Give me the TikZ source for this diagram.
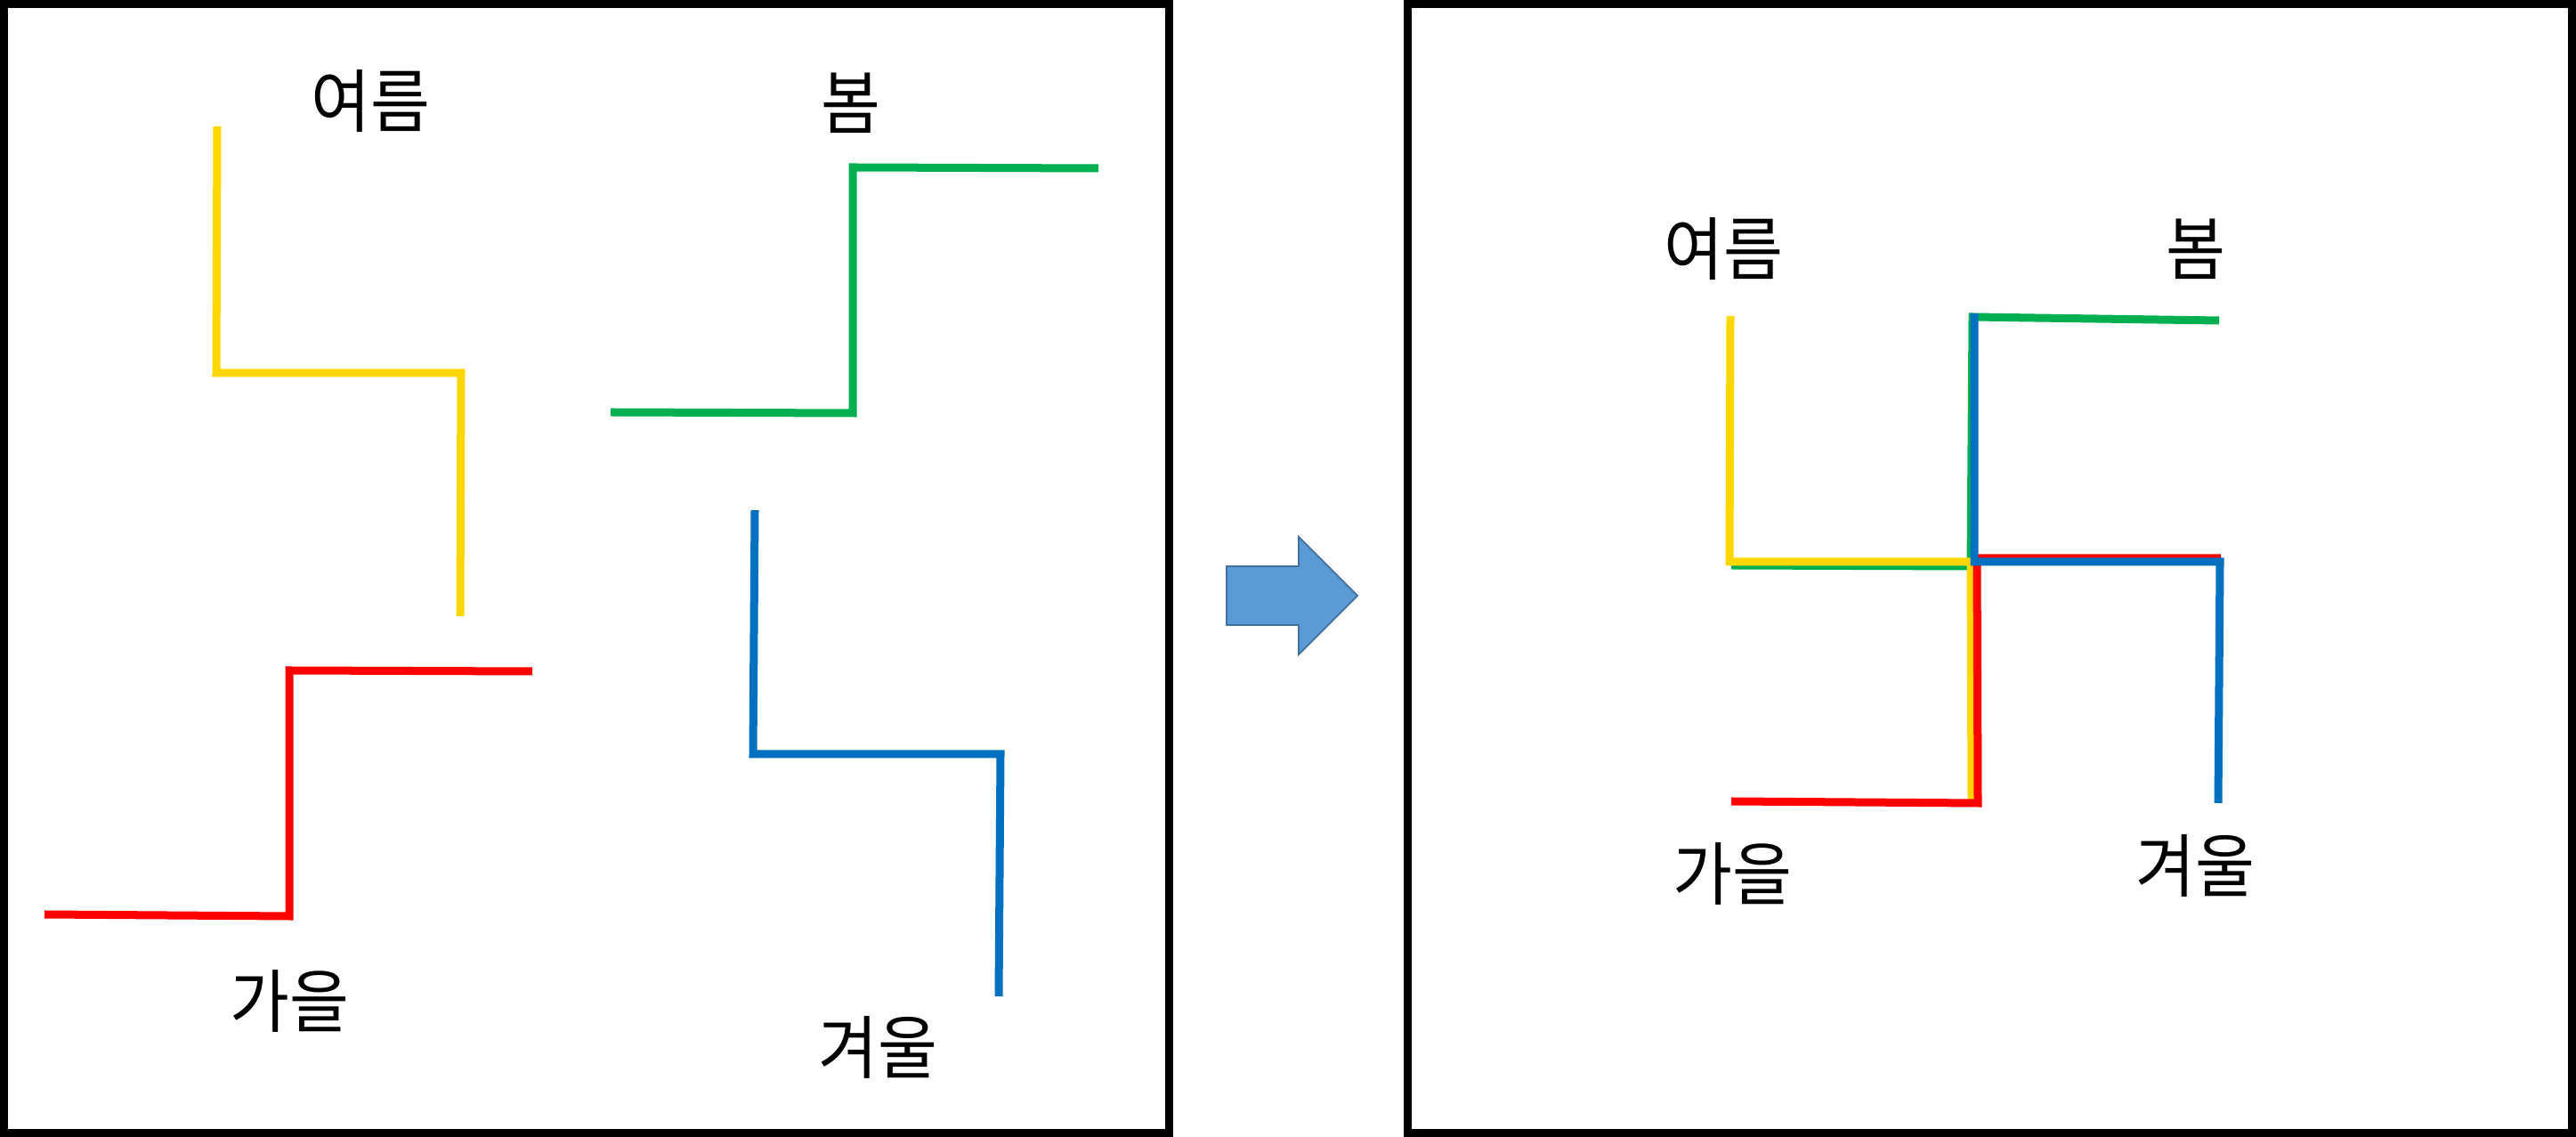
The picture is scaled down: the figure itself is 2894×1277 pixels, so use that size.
\documentclass[tikz,border=0pt]{standalone}
\usepackage{fontspec}
\usepackage{xcolor}
\usepackage{tikz}
\usetikzlibrary{positioning}
\newfontfamily\kofont[FakeStretch=0.94]{Noto Sans CJK KR}

\definecolor{springgreen}{HTML}{00B050}
\definecolor{summeryellow}{HTML}{FFD700}
\definecolor{autumnred}{HTML}{FF0000}
\definecolor{winterblue}{HTML}{0070C0}
\definecolor{arrowfill}{HTML}{5B9BD5}
\definecolor{arrowdraw}{HTML}{41719C}

\begin{document}
\begin{tikzpicture}[
    x=0.01cm, y=-0.01cm,
    font=\kofont\fontsize{22pt}{26pt}\selectfont,
    season/.style={inner sep=0pt, anchor=center},
    frame/.style={draw=black, line width=0.09cm},
    stroke/.style={line width=0.09cm, line join=miter, line cap=butt},
    spr/.style={stroke, draw=springgreen},
    sum/.style={stroke, draw=summeryellow},
    aut/.style={stroke, draw=autumnred},
    win/.style={stroke, draw=winterblue},
    bigarrow/.style={fill=arrowfill, draw=arrowdraw, line width=0.5pt, line join=miter}
]
\useasboundingbox (0,0) rectangle (2894,1277);

% two panels
\draw[frame] (4.5,4.5) rectangle (1313.5,1272.5);
\draw[frame] (1581.5,4.5) rectangle (2889.5,1272.5);

% left panel: the four pieces apart
\draw[sum] (244,142) -- (243,419) -- (518,419) -- (517,692);
\draw[spr] (686,463) -- (958,464) -- (958,188) -- (1234,189);
\draw[aut] (50,1027) -- (325,1029) -- (325,753) -- (598,754);
\draw[win] (848,573) -- (846,847) -- (1124,847) -- (1122,1119);

\node[season] (sumL) at (416,114) {여름};
\node[season] (sprL) at (956,116) {봄};
\node[season] (autL) at (325,1124) {가을};
\node[season] (winL) at (986,1176) {겨울};

% arrow between panels
\draw[bigarrow] (1378,636) -- (1459,636) -- (1459,603) -- (1525,669)
    -- (1459,735) -- (1459,702) -- (1378,702) -- cycle;

% right panel: the pieces put together
\draw[spr] (1945,635) -- (2214,636) -- (2216,356) -- (2493,360);
\draw[sum] (1944,355) -- (1943,631) -- (2214,631) -- (2215,902);
\draw[aut] (1945,900) -- (2222,902) -- (2221,627) -- (2495,627);
\draw[win] (2218,352) -- (2218,631) -- (2494,631) -- (2492,902);

\node[season] (sumR) at (1936,280) {여름};
\node[season] (sprR) at (2467,280) {봄};
\node[season] (autR) at (1946,981) {가을};
\node[season] (winR) at (2466,972) {겨울};

\end{tikzpicture}
\end{document}
